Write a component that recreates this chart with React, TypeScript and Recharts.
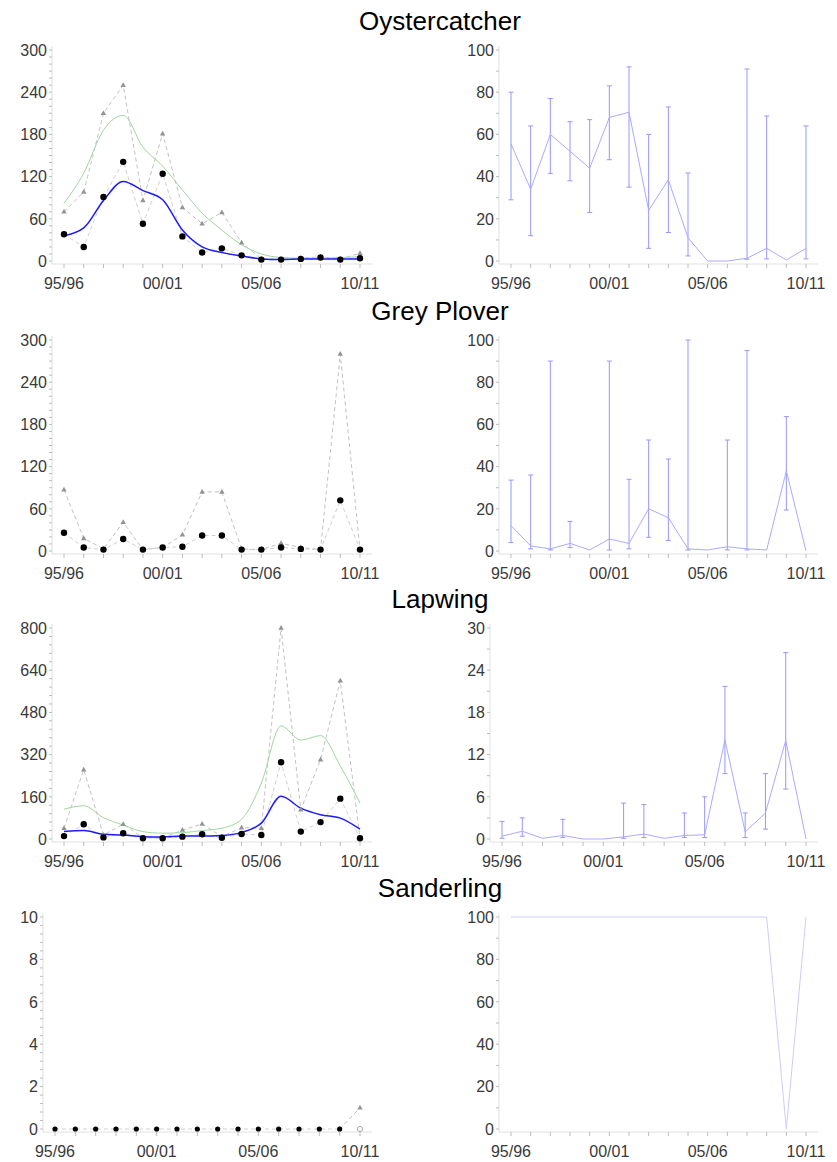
import React from "react";
import { ComposedChart, Line, XAxis, YAxis, ErrorBar } from "recharts";

const seasons = [
  "95/96", "96/97", "97/98", "98/99", "99/00", "00/01", "01/02", "02/03",
  "03/04", "04/05", "05/06", "06/07", "07/08", "08/09", "09/10", "10/11",
];
const labelledSeasons = ["95/96", "00/01", "05/06", "10/11"];
const species = ["Oystercatcher", "Grey Plover", "Lapwing", "Sanderling"];

// Oystercatcher
const oyCount = [38, 20, 91, 141, 53, 124, 35, 12, 18, 8, 2, 2, 3, 5, 2, 4];
const oyUpper = [70, 98, 210, 250, 86, 181, 76, 53, 69, 26, 3, 3, 4, 6, 3, 11];
const oyCountSmooth = [36, 47, 86, 113, 100, 87, 44, 20, 12, 7, 3, 2, 3, 3, 3, 3];
const oyUpperSmooth = [82, 125, 186, 207, 162, 135, 101, 68, 44, 23, 10, 5, 4, 4, 5, 6];
const oyPct = [55.5, 34, 60, 52, 44, 68, 70.5, 24, 38.5, 11, 0, 0, 1.3, 6, 0.5, 6];
const oyLow = [29, 12, 41.5, 38, 23, 48, 35, 6, 13.5, 2.4, null, null, 0.8, 1, null, 1];
const oyHigh = [80, 64, 77, 66, 67, 83, 92, 60, 73, 41.7, null, null, 91, 68.7, null, 64];

// Grey Plover
const gpCount = [26, 5, 2, 17, 2, 5, 6, 22, 22, 2, 2, 5, 3, 2, 72, 2];
const gpUpper = [87, 18, 3, 41, 2, 5, 23, 84, 84, 3, 2, 11, 5, 2, 280, 2];
const gpPct = [12, 2.4, 1, 3.6, 0.5, 5.7, 3.6, 20, 15.8, 1, 0.5, 2, 1, 0.5, 38, 0];
const gpLow = [4, 1, 0.5, 1.6, null, 0.5, 1, 6.5, 5, 0.5, null, 0.5, 0.5, null, 19.4, null];
const gpHigh = [33.6, 36, 90, 14, null, 90, 34, 52.6, 43.6, 100, null, 52.6, 95, null, 63.7, null];

// Lapwing
const lpCount = [11, 56, 6, 22, 3, 3, 9, 18, 5, 19, 15, 291, 28, 64, 153, 3];
const lpUpper = [41, 263, 15, 56, 5, 3, 34, 57, 9, 43, 41, 800, 111, 301, 600, 3];
const lpCountSmooth = [28, 32, 18, 15, 9, 8, 11, 11, 13, 25, 60, 162, 117, 92, 79, 37];
const lpUpperSmooth = [113, 126, 81, 53, 28, 22, 24, 32, 41, 75, 212, 429, 375, 392, 277, 136];
const lpPct = [0.4, 1.1, 0.1, 0.5, 0, 0, 0.3, 0.7, 0.1, 0.5, 0.6, 14.1, 1.0, 3.7, 14, 0];
const lpLow = [0.1, 0.4, null, 0.2, null, null, 0.1, 0.2, null, 0.2, 0.2, 9.3, 0.2, 1.4, 7.1, null];
const lpHigh = [2.5, 3, null, 2.8, null, null, 5.1, 4.9, null, 3.7, 6, 21.7, 3.7, 9.3, 26.5, null];

// Sanderling
const sdCount = [0, 0, 0, 0, 0, 0, 0, 0, 0, 0, 0, 0, 0, 0, 0, null];
const sdImputed = [null, null, null, null, null, null, null, null, null, null, null, null, null, null, null, 0];
const sdUpper = [null, null, null, null, null, null, null, null, null, null, null, null, null, null, 0, 1.0];
const sdPct = [100, 100, 100, 100, 100, 100, 100, 100, 100, 100, 100, 100, 100, 100, 0, 100];

// axis ticks
const oyCountTicks = [0, 60, 120, 180, 240, 300];
const gpCountTicks = [0, 60, 120, 180, 240, 300];
const lpCountTicks = [0, 160, 320, 480, 640, 800];
const sdCountTicks = [0, 2, 4, 6, 8, 10];
const pctTicks = [0, 20, 40, 60, 80, 100];
const lpPctTicks = [0, 6, 12, 18, 24, 30];

const FONT = '"Liberation Sans", Arial, Helvetica, sans-serif';
const FRAME = "#e0e0e0";
const TICK_MARK = "#bcbcbc";
const TICK_TEXT = "#3a3a3a";
const seasonIdx = seasons.map((_, i) => i);

function subdivide(majors: number[], parts: number): number[] {
  const out: number[] = [];
  for (let k = 0; k < majors.length - 1; k++) {
    const a = majors[k];
    const b = majors[k + 1];
    for (let j = 0; j < parts; j++) out.push(+(a + ((b - a) * j) / parts).toFixed(4));
  }
  out.push(majors[majors.length - 1]);
  return out;
}

function SeasonTick(props: any) {
  const { x, y, payload } = props;
  const label = seasons[payload.value];
  return (
    <g>
      <line x1={x} x2={x} y1={y} y2={y + 4} stroke={TICK_MARK} />
      {labelledSeasons.includes(label) && (
        <text x={x} y={y + 25} textAnchor="middle" fill={TICK_TEXT} fontSize={16} fontFamily={FONT}>
          {label}
        </text>
      )}
    </g>
  );
}

function valueTick(majors: number[]) {
  return (props: any) => {
    const { x, y, payload } = props;
    const major = majors.includes(payload.value);
    return (
      <g>
        <line x1={x - 3} x2={x} y1={y} y2={y} stroke={TICK_MARK} />
        {major && (
          <text x={x - 5} y={y} dy="0.36em" textAnchor="end" fill={TICK_TEXT} fontSize={16} fontFamily={FONT}>
            {payload.value}
          </text>
        )}
      </g>
    );
  };
}

function frameAxes(majors: number[], parts: number, yWidth: number) {
  const top = majors[majors.length - 1];
  return [
    <XAxis
      key="xb"
      dataKey="i"
      type="number"
      domain={[0, 15]}
      ticks={seasonIdx}
      interval={0}
      padding={{ left: 12, right: 12 }}
      height={34}
      axisLine={{ stroke: FRAME }}
      tickLine={false}
      tickSize={0}
      tickMargin={0}
      tick={SeasonTick}
    />,
    <XAxis
      key="xt"
      xAxisId="top"
      orientation="top"
      type="number"
      domain={[0, 15]}
      height={0}
      axisLine={{ stroke: FRAME }}
      tick={false}
      tickLine={false}
    />,
    <YAxis
      key="yl"
      type="number"
      domain={[0, top]}
      ticks={subdivide(majors, parts)}
      interval={0}
      width={yWidth}
      padding={{ top: 4, bottom: 3 }}
      axisLine={{ stroke: FRAME }}
      tickLine={false}
      tickSize={0}
      tickMargin={0}
      tick={valueTick(majors)}
    />,
    <YAxis
      key="yr"
      yAxisId="right"
      orientation="right"
      type="number"
      domain={[0, top]}
      width={0}
      axisLine={{ stroke: FRAME }}
      tick={false}
      tickLine={false}
    />,
  ];
}

const triangleDot = (p: any) =>
  p.cx == null || p.value == null ? (
    <g key={p.index} />
  ) : (
    <path
      key={p.index}
      d={`M${p.cx},${p.cy - 3} L${p.cx + 2.7},${p.cy + 1.8} L${p.cx - 2.7},${p.cy + 1.8} Z`}
      fill="#939393"
    />
  );

const blackDot = (r: number) => (p: any) =>
  p.cx == null || p.value == null ? (
    <g key={p.index} />
  ) : (
    <circle key={p.index} cx={p.cx} cy={p.cy} r={r} fill="#000" />
  );

const openDot = (p: any) =>
  p.cx == null || p.value == null ? (
    <g key={p.index} />
  ) : (
    <circle key={p.index} cx={p.cx} cy={p.cy} r={2.6} fill="#fff" stroke="#aaa" />
  );

interface CountProps {
  top: number;
  plotH: number;
  yWidth: number;
  majors: number[];
  parts: number;
  count: (number | null)[];
  upper: (number | null)[];
  countSmooth?: number[];
  upperSmooth?: number[];
  imputed?: (number | null)[];
  dotR?: number;
}

function CountPanel(p: CountProps) {
  const rows = seasons.map((s, i) => ({
    i,
    season: s,
    count: p.count[i],
    upper: p.upper[i],
    countSmooth: p.countSmooth ? p.countSmooth[i] : null,
    upperSmooth: p.upperSmooth ? p.upperSmooth[i] : null,
    imputed: p.imputed ? p.imputed[i] : null,
  }));
  const plotRight = 372;
  return (
    <div style={{ position: "absolute", left: 0, top: p.top - 10 }}>
      <ComposedChart
        width={plotRight + 10}
        height={10 + p.plotH + 34}
        data={rows}
        margin={{ top: 10, right: 10, bottom: 0, left: 0 }}
      >
        {frameAxes(p.majors, p.parts, p.yWidth)}
        <Line dataKey="upper" stroke="#c2c2c2" strokeWidth={1} strokeDasharray="4 3" dot={triangleDot} isAnimationActive={false} />
        {p.upperSmooth && (
          <Line dataKey="upperSmooth" type="monotone" stroke="#9ed69e" strokeWidth={1} dot={false} isAnimationActive={false} />
        )}
        <Line dataKey="count" stroke="#d0d0d0" strokeWidth={1} strokeDasharray="4 3" dot={blackDot(p.dotR ?? 3.2)} isAnimationActive={false} />
        {p.countSmooth && (
          <Line dataKey="countSmooth" type="monotone" stroke="#1c1cff" strokeWidth={1.5} dot={false} isAnimationActive={false} />
        )}
        {p.imputed && (
          <Line dataKey="imputed" stroke="transparent" dot={openDot} isAnimationActive={false} />
        )}
      </ComposedChart>
    </div>
  );
}

interface PctProps {
  top: number;
  plotH: number;
  yWidth: number;
  majors: number[];
  parts: number;
  pct: number[];
  low?: (number | null)[];
  high?: (number | null)[];
  lineColor?: string;
}

function PctPanel(p: PctProps) {
  const rows = seasons.map((s, i) => {
    const lo = p.low ? p.low[i] : null;
    const hi = p.high ? p.high[i] : null;
    return {
      i,
      season: s,
      pct: p.pct[i],
      err: lo == null || hi == null ? null : [p.pct[i] - lo, hi - p.pct[i]],
    };
  });
  const originX = 420;
  const plotRight = 818;
  return (
    <div style={{ position: "absolute", left: originX, top: p.top - 10 }}>
      <ComposedChart
        width={plotRight - originX + 10}
        height={10 + p.plotH + 34}
        data={rows}
        margin={{ top: 10, right: 10, bottom: 0, left: 0 }}
      >
        {frameAxes(p.majors, p.parts, p.yWidth)}
        <Line dataKey="pct" stroke={p.lineColor ?? "#aaaaff"} strokeWidth={1} dot={false} isAnimationActive={false}>
          {p.low && (
            <ErrorBar dataKey="err" direction="y" width={2.5} stroke="#9696ff" strokeWidth={1} isAnimationActive={false} />
          )}
        </Line>
      </ComposedChart>
    </div>
  );
}

const ROW_TOPS = [46, 336, 624, 913];

export default function App() {
  return (
    <div
      style={{
        position: "absolute",
        left: 0,
        top: 0,
        width: 837,
        height: 1162,
        background: "#fff",
        fontFamily: FONT,
      }}
    >
      {species.map((name, k) => (
        <div
          key={name}
          style={{
            position: "absolute",
            left: 290,
            width: 300,
            top: ROW_TOPS[k] - 38,
            textAlign: "center",
            fontSize: 26,
            lineHeight: "26px",
            color: "#000",
          }}
        >
          {name}
        </div>
      ))}

      <CountPanel top={ROW_TOPS[0]} plotH={218} yWidth={52} majors={oyCountTicks} parts={6}
        count={oyCount} upper={oyUpper} countSmooth={oyCountSmooth} upperSmooth={oyUpperSmooth} />
      <PctPanel top={ROW_TOPS[0]} plotH={218} yWidth={79} majors={pctTicks} parts={2}
        pct={oyPct} low={oyLow} high={oyHigh} />

      <CountPanel top={ROW_TOPS[1]} plotH={218} yWidth={52} majors={gpCountTicks} parts={6}
        count={gpCount} upper={gpUpper} />
      <PctPanel top={ROW_TOPS[1]} plotH={218} yWidth={79} majors={pctTicks} parts={2}
        pct={gpPct} low={gpLow} high={gpHigh} />

      <CountPanel top={ROW_TOPS[2]} plotH={218} yWidth={52} majors={lpCountTicks} parts={5}
        count={lpCount} upper={lpUpper} countSmooth={lpCountSmooth} upperSmooth={lpUpperSmooth} />
      <PctPanel top={ROW_TOPS[2]} plotH={218} yWidth={70} majors={lpPctTicks} parts={2}
        pct={lpPct} low={lpLow} high={lpHigh} />

      <CountPanel top={ROW_TOPS[3]} plotH={219} yWidth={43} majors={sdCountTicks} parts={5}
        count={sdCount} upper={sdUpper} imputed={sdImputed} dotR={2.6} />
      <PctPanel top={ROW_TOPS[3]} plotH={219} yWidth={79} majors={pctTicks} parts={2}
        pct={sdPct} lineColor="#cdcdfb" />
    </div>
  );
}
